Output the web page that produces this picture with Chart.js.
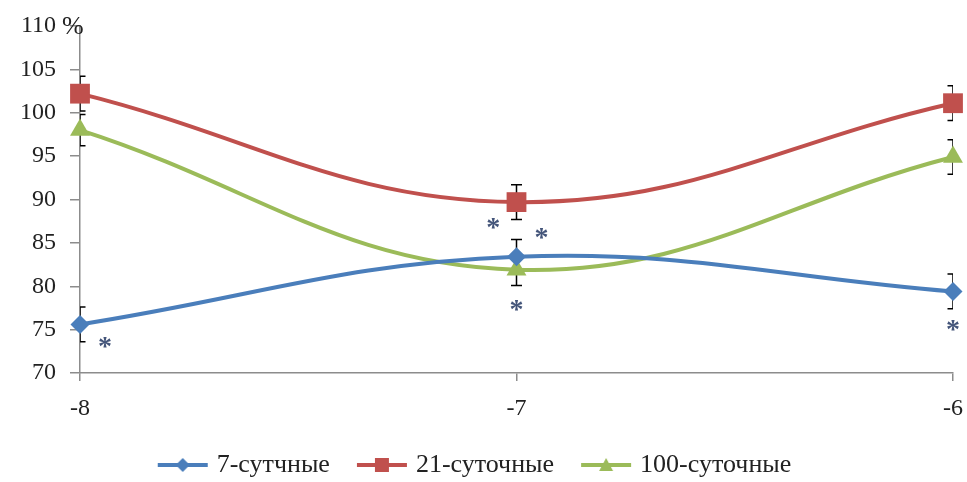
<!DOCTYPE html>
<html>
<head>
<meta charset="utf-8">
<script src="https://cdn.jsdelivr.net/npm/chart.js@4.4.0/dist/chart.umd.min.js"></script>
<style>
  html, body { margin: 0; padding: 0; background: #fff; }
  #wrap { width: 967px; height: 482px; }
</style>
</head>
<body>
<div id="wrap"><canvas id="chart"></canvas></div>
<script>
// data
const days = [-8, -7, -6];
const yTicks = [70, 75, 80, 85, 90, 95, 100, 105, 110];
const seriesNames = ["7-сутчные", "21-суточные", "100-суточные"];
const values7 = [75.6, 83.4, 79.4];
const values21 = [102.2, 89.7, 101.1];
const values100 = [98.0, 81.9, 94.9];
const err7 = [2.0, 2.0, 2.0];
const err21 = [2.0, 2.0, 2.0];
const err100 = [1.8, 1.8, 2.0];
// asterisk marks (x, y in data units)
const starX = [-7.943, -7.053, -6.943, -7.0, -6.0];
const starY = [73.5, 87.2, 86.1, 77.8, 75.5];

const FONT = "'Liberation Serif', 'Times New Roman', serif";
const colors = ["#4a7ebb", "#c0504d", "#9bbb59"];
const styles = ["rectRot", "rect", "triangle"];
const radii = [9.5, 14, 11.5];

function legendIcon(color, style) {
  const c = document.createElement("canvas");
  c.width = 56; c.height = 20;
  const g = c.getContext("2d");
  g.strokeStyle = color; g.lineWidth = 4;
  g.beginPath(); g.moveTo(3, 10); g.lineTo(53, 10); g.stroke();
  g.fillStyle = color;
  g.beginPath();
  if (style === "rectRot") {
    g.moveTo(28, 3); g.lineTo(35, 10); g.lineTo(28, 17); g.lineTo(21, 10);
  } else if (style === "rect") {
    g.rect(21, 3, 14, 14);
  } else {
    g.moveTo(28, 3); g.lineTo(35, 16); g.lineTo(21, 16);
  }
  g.closePath(); g.fill();
  return c;
}

const allValues = [values7, values21, values100];
const allErr = [err7, err21, err100];

const datasets = allValues.map((vals, i) => ({
  label: seriesNames[i],
  data: days.map((d, j) => ({ x: d, y: vals[j] })),
  borderColor: colors[i],
  backgroundColor: colors[i],
  borderWidth: 4,
  tension: 0.4,
  pointStyle: styles[i],
  pointRadius: radii[i],
  pointHoverRadius: radii[i],
  pointBorderWidth: 0,
  clip: false,
  errors: allErr[i],
  legendIcon: legendIcon(colors[i], styles[i])
}));

const extras = {
  id: "extras",
  beforeDatasetsDraw(chart) {
    const { ctx, chartArea, scales } = chart;
    ctx.save();
    ctx.beginPath();
    ctx.rect(chartArea.left, 0, chartArea.right - chartArea.left, chart.height);
    ctx.clip();
    ctx.strokeStyle = "#000";
    ctx.lineWidth = 1.5;
    chart.data.datasets.forEach(ds => {
      ds.data.forEach((p, j) => {
        const x = scales.x.getPixelForValue(p.x);
        const yt = scales.y.getPixelForValue(p.y + ds.errors[j]);
        const yb = scales.y.getPixelForValue(p.y - ds.errors[j]);
        ctx.beginPath();
        ctx.moveTo(x, yt); ctx.lineTo(x, yb);
        ctx.moveTo(x - 5.5, yt); ctx.lineTo(x + 5.5, yt);
        ctx.moveTo(x - 5.5, yb); ctx.lineTo(x + 5.5, yb);
        ctx.stroke();
      });
    });
    ctx.restore();
  },
  afterDatasetsDraw(chart) {
    const { ctx, scales } = chart;
    ctx.save();
    ctx.font = "bold 28px " + FONT;
    ctx.fillStyle = "#44557a";
    ctx.textAlign = "center";
    ctx.textBaseline = "alphabetic";
    const m = ctx.measureText("*");
    const off = (m.actualBoundingBoxAscent - m.actualBoundingBoxDescent) / 2;
    starX.forEach((sx, i) => {
      ctx.fillText("*", scales.x.getPixelForValue(sx), scales.y.getPixelForValue(starY[i]) + off);
    });
    // percent sign at the top of the value axis
    ctx.font = "26px " + FONT;
    ctx.fillStyle = "#222";
    ctx.textAlign = "left";
    ctx.textBaseline = "middle";
    ctx.fillText("%", scales.x.left - 18, scales.y.getPixelForValue(110) + 1);
    ctx.restore();
  }
};

new Chart(document.getElementById("chart"), {
  type: "line",
  data: { datasets },
  options: {
    responsive: true,
    maintainAspectRatio: false,
    animation: false,
    layout: { padding: { top: 26, right: 14, left: 0, bottom: -6 } },
    plugins: {
      tooltip: { enabled: false },
      legend: {
        position: "bottom",
        labels: {
          usePointStyle: true,
          pointStyleWidth: 42,
          padding: 31,
          color: "#222",
          font: { family: FONT, size: 26 },
          generateLabels(chart) {
            return chart.data.datasets.map((ds, i) => ({
              text: ds.label,
              pointStyle: ds.legendIcon,
              fillStyle: ds.backgroundColor,
              strokeStyle: ds.borderColor,
              lineWidth: 0,
              fontColor: "#222",
              datasetIndex: i
            }));
          }
        }
      }
    },
    scales: {
      x: {
        type: "linear",
        min: days[0],
        max: days[days.length - 1],
        afterBuildTicks(scale) { scale.ticks = days.map(v => ({ value: v })); },
        border: { color: "#8c8c8c", width: 1.5 },
        grid: { drawOnChartArea: false, drawTicks: true, tickLength: 8, color: "#8c8c8c", lineWidth: 1.5 },
        ticks: { color: "#222", padding: 13, font: { family: FONT, size: 24 } },
        afterFit(scale) { scale.height = 48; scale.paddingLeft = 0; scale.paddingRight = 0; }
      },
      y: {
        min: yTicks[0],
        max: yTicks[yTicks.length - 1],
        afterBuildTicks(scale) { scale.ticks = yTicks.map(v => ({ value: v })); },
        border: { color: "#8c8c8c", width: 1.5 },
        grid: { drawOnChartArea: false, drawTicks: true, tickLength: 10, color: "#8c8c8c", lineWidth: 1.5 },
        ticks: { color: "#222", padding: 14, font: { family: FONT, size: 24 } },
        afterFit(scale) { scale.width = 80; scale.paddingTop = 0; scale.paddingBottom = 0; }
      }
    }
  },
  plugins: [extras]
});
</script>
</body>
</html>
